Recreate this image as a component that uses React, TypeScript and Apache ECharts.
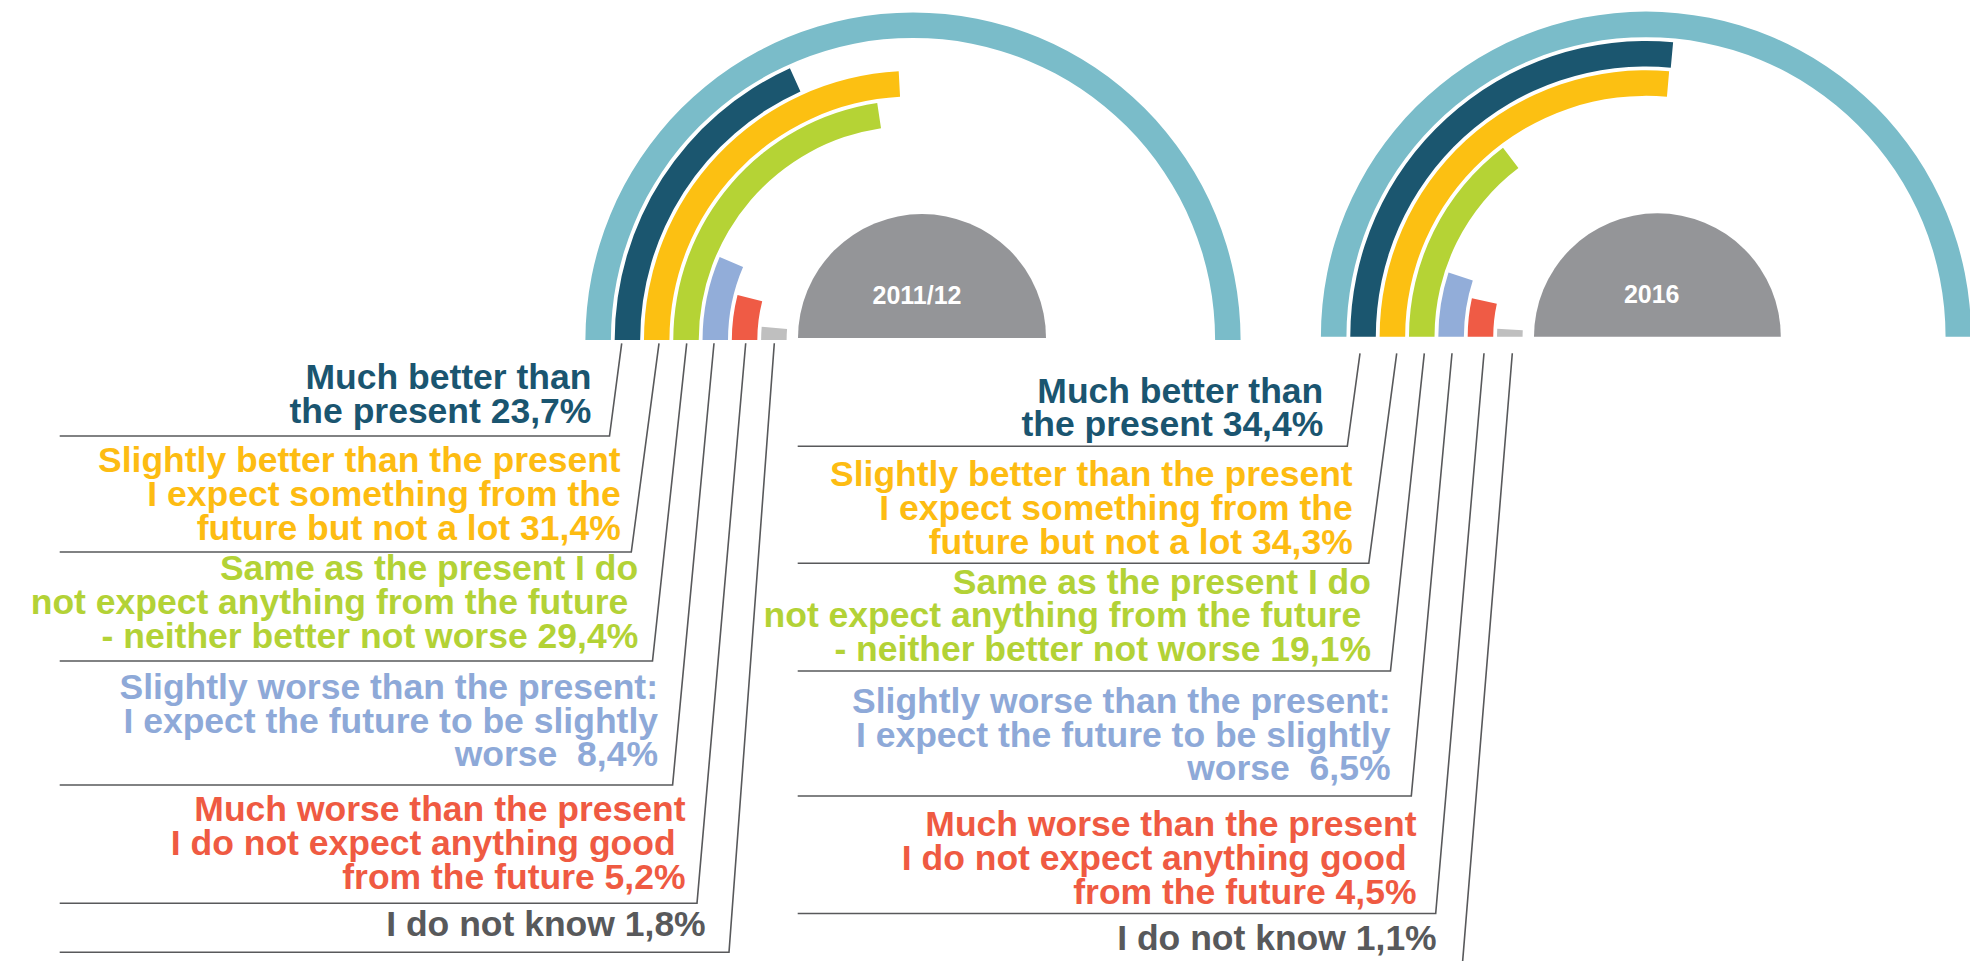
import React, { useEffect, useRef } from 'react';
import * as echarts from 'echarts';

// ---------- data ----------
const CATEGORIES = ['Much better', 'Slightly better', 'Same', 'Slightly worse', 'Much worse', 'I do not know'];
const LABEL_LINES: string[][] = [
  ['Much better than', 'the present'],
  ['Slightly better than the present', 'I expect something from the', 'future but not a lot'],
  ['Same as the present I do', 'not expect anything from the future\u00A0', '- neither better not worse'],
  ['Slightly worse than the present:', 'I expect the future to be slightly', 'worse\u00A0'],
  ['Much worse than the present', 'I do not expect anything good\u00A0', 'from the future'],
  ['I do not know'],
];
const YEARS = ['2011/12', '2016'];
const VALUES_2011 = [23.7, 31.4, 29.4, 8.4, 5.2, 1.8];
const VALUES_2016 = [34.4, 34.3, 19.1, 6.5, 4.5, 1.1];
const TRACK_LABEL = 'Scale';
const SCALE_HALF = 65; // value that spans the half circle

// ---------- styles ----------
const BAR_COLORS = ['#1B566F', '#FCC012', '#B5D335', '#92ADD9', '#EF5B45', '#BFBFBF'];
const TEXT_COLORS = ['#1A5570', '#FDBC12', '#B3D236', '#8EA9D8', '#EF5A42', '#58595B'];
const TRACK_COLOR = '#7ABCC9';
const SEMI_COLOR = '#949598';
const LINE_COLOR = '#58595B';
const FONT = '"Liberation Sans", Arial, sans-serif';
const FONT_SIZE = 35.5;
const LINE_GAP = 33.6;

const LAYOUT = [
  {
    center: [913, 340], radius: [124.5, 329.5],
    semi: { cx: 922, cy: 338, r: 124 }, yearX: 917, yearY: 294.5,
    textRight: [591.4, 620.7, 638.2, 658, 685.5, 705.7],
    baseline0: [389.5, 472.7, 580.7, 699.3, 821.7, 936],
    underlineY: [436, 552, 661, 785, 903.3, 952.3],
    underlineRight: [609.5, 631.3, 652.5, 672.6, 697, 729],
    underlineLeft: 59.7, leaderTopY: 343.3,
    leaderTopX: [621.7, 659, 686.7, 714, 745.7, 774.3],
  },
  {
    center: [1646, 336.7], radius: [121.5, 327],
    semi: { cx: 1657.4, cy: 336.7, r: 123.4 }, yearX: 1651.7, yearY: 293.7,
    textRight: [1323.3, 1352.7, 1371, 1390.5, 1416.5, 1436.7],
    baseline0: [403.1, 486.7, 594, 713.3, 836.7, 950.5],
    underlineY: [446.3, 563.3, 671, 796, 913.5, 985],
    underlineRight: [1347.3, 1368.8, 1390.5, 1411.3, 1435.7, 1460.7],
    underlineLeft: 797.7, leaderTopY: 353.3,
    leaderTopX: [1360, 1396.7, 1424.3, 1452, 1484, 1512.3],
  },
];

const fmt = (v: number) => v.toFixed(1).replace('.', ',') + '%';

export default function App() {
  const ref = useRef<HTMLDivElement>(null);
  useEffect(() => {
    if (!ref.current) return;
    const chart = echarts.init(ref.current, undefined, { renderer: 'svg' });
    const datasets = [VALUES_2011, VALUES_2016];
    const radiusCats = [...CATEGORIES].reverse().concat([TRACK_LABEL]);

    const graphics: any[] = [];
    LAYOUT.forEach((L, ci) => {
      const vals = datasets[ci];
      graphics.push({
        type: 'sector', silent: true,
        shape: { cx: L.semi.cx, cy: L.semi.cy, r0: 0, r: L.semi.r, startAngle: Math.PI, endAngle: Math.PI * 2, clockwise: true },
        style: { fill: SEMI_COLOR },
      });
      graphics.push({
        type: 'text', silent: true, x: L.yearX, y: L.yearY,
        style: { text: YEARS[ci], fill: '#FFFFFF', font: `bold 25px ${FONT}`, align: 'center', verticalAlign: 'middle' },
      });
      CATEGORIES.forEach((_, i) => {
        graphics.push({
          type: 'polyline', silent: true,
          shape: { points: [[L.underlineLeft, L.underlineY[i]], [L.underlineRight[i], L.underlineY[i]], [L.leaderTopX[i], L.leaderTopY]] },
          style: { stroke: LINE_COLOR, lineWidth: 1.6, fill: null },
        });
        const lines = LABEL_LINES[i].slice();
        lines[lines.length - 1] = lines[lines.length - 1] + ' ' + fmt(vals[i]);
        lines.forEach((t, k) => {
          graphics.push({
            type: 'text', silent: true,
            x: L.textRight[i], y: L.baseline0[i] + k * LINE_GAP - FONT_SIZE * 0.347,
            style: { text: t, fill: TEXT_COLORS[i], font: `bold ${FONT_SIZE}px ${FONT}`, align: 'right', verticalAlign: 'middle' },
          });
        });
      });
    });

    const option: any = {
      animation: false,
      polar: LAYOUT.map((L) => ({ center: L.center, radius: L.radius })),
      angleAxis: LAYOUT.map((_, ci) => ({
        polarIndex: ci, type: 'value', min: 0, max: SCALE_HALF * 2, startAngle: 180, clockwise: true,
        show: false, axisLine: { show: false }, axisTick: { show: false }, axisLabel: { show: false }, splitLine: { show: false },
      })),
      radiusAxis: LAYOUT.map((_, ci) => ({
        polarIndex: ci, type: 'category', data: radiusCats, show: false,
        axisLine: { show: false }, axisTick: { show: false }, axisLabel: { show: false }, splitLine: { show: false },
      })),
      series: LAYOUT.map((_, ci) => {
        const vals = datasets[ci];
        const data = CATEGORIES.map((c, i) => ({ name: c, value: vals[i], itemStyle: { color: BAR_COLORS[i] } }))
          .reverse()
          .concat([{ name: TRACK_LABEL, value: SCALE_HALF, itemStyle: { color: TRACK_COLOR } }]);
        return {
          type: 'bar', coordinateSystem: 'polar', polarIndex: ci, barCategoryGap: '13%',
          silent: true, data,
        };
      }),
      graphic: graphics,
    };
    chart.setOption(option);
    return () => chart.dispose();
  }, []);
  return <div ref={ref} style={{ position: 'absolute', left: 0, top: 0, width: 1970, height: 961, background: '#fff' }} />;
}
